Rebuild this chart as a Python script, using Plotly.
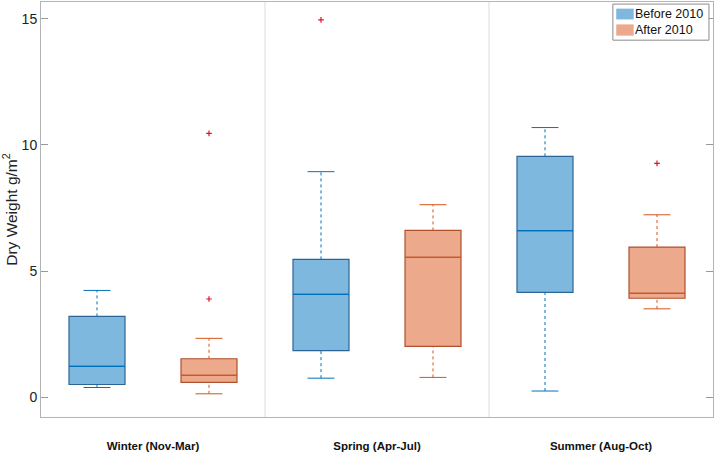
import plotly.graph_objects as go

seasons = ["Winter (Nov-Mar)", "Spring (Apr-Jul)", "Summer (Aug-Oct)"]
series_names = ["Before 2010", "After 2010"]

# Box statistics
before_low = [0.38, 0.75, 0.24]
before_q1 = [0.50, 1.84, 4.15]
before_med = [1.22, 4.07, 6.60]
before_q3 = [3.20, 5.46, 9.55]
before_high = [4.23, 8.94, 10.69]
before_out_season = [1]
before_out_val = [14.96]

after_low = [0.13, 0.78, 3.50]
after_q1 = [0.58, 2.01, 3.92]
after_med = [0.86, 5.54, 4.11]
after_q3 = [1.52, 6.61, 5.95]
after_high = [2.33, 7.63, 7.23]
after_out_season = [0, 0, 2]
after_out_val = [3.89, 10.46, 9.27]

y_ticks = [0, 5, 10, 15]

offsets = [0.25, 0.75]
box_w = 0.25
cap_half = 0.06
line_colors = ["#0072BD", "#D95319"]
fill_colors = ["rgba(0,114,189,0.5)", "rgba(217,83,25,0.5)"]
edge_colors = ["#2C6496", "#B0502C"]

fig = go.Figure()

stats = [
    (before_low, before_q1, before_med, before_q3, before_high, before_out_season, before_out_val),
    (after_low, after_q1, after_med, after_q3, after_high, after_out_season, after_out_val),
]

for i, (lo, q1, med, q3, hi, os_, ov) in enumerate(stats):
    xs = [k + offsets[i] for k in range(len(seasons))]
    wx, wy = [], []
    cx, cy = [], []
    for k, x in enumerate(xs):
        wx += [x, x, None, x, x, None]
        wy += [q3[k], hi[k], None, lo[k], q1[k], None]
        cx += [x - cap_half, x + cap_half, None, x - cap_half, x + cap_half, None]
        cy += [hi[k], hi[k], None, lo[k], lo[k], None]
    fig.add_trace(go.Scatter(x=wx, y=wy, mode="lines", showlegend=False, hoverinfo="skip",
                             line=dict(color=line_colors[i], width=1, dash="3px,3px")))
    fig.add_trace(go.Scatter(x=cx, y=cy, mode="lines", showlegend=False, hoverinfo="skip",
                             line=dict(color=line_colors[i], width=1)))
    fig.add_trace(go.Box(
        x=xs, q1=q1, median=med, q3=q3, lowerfence=q1, upperfence=q3,
        name=series_names[i], width=box_w, whiskerwidth=0,
        fillcolor=fill_colors[i], line=dict(color=edge_colors[i], width=1.2),
        boxpoints=False, showlegend=False,
    ))
    mx, my = [], []
    for k, x in enumerate(xs):
        mx += [x - box_w / 2, x + box_w / 2, None]
        my += [med[k], med[k], None]
    fig.add_trace(go.Scatter(x=mx, y=my, mode="lines", showlegend=False, hoverinfo="skip",
                             line=dict(color=line_colors[i], width=1.2)))
    fig.add_trace(go.Scatter(x=[s + offsets[i] for s in os_], y=ov, mode="markers", showlegend=False,
                             marker=dict(symbol="cross-thin", size=4, line=dict(color="#E3131E", width=1.2))))

for k in range(1, len(seasons)):
    fig.add_shape(type="line", xref="x", yref="paper", x0=k, x1=k, y0=0, y1=1,
                  line=dict(color="#DCDCDC", width=1), layer="below")

# Legend box drawn in the plot's paper space (top-right)
fig.add_shape(type="rect", xref="paper", yref="paper", x0=0.851, x1=0.994, y0=0.908, y1=0.995,
              line=dict(color="#8C8C8C", width=1), fillcolor="white", layer="above")
swatch_y = [(0.958, 0.984), (0.919, 0.946)]
for i, name in enumerate(series_names):
    fig.add_shape(type="rect", xref="paper", yref="paper", x0=0.856, x1=0.882,
                  y0=swatch_y[i][0], y1=swatch_y[i][1],
                  line=dict(color=fill_colors[i], width=0), fillcolor=fill_colors[i], layer="above")
    fig.add_annotation(xref="paper", yref="paper", x=0.881, y=(swatch_y[i][0] + swatch_y[i][1]) / 2,
                       text=name, showarrow=False, xanchor="left", yanchor="middle",
                       font=dict(size=12.5, color="#111111"))

fig.update_layout(
    width=714, height=460,
    margin=dict(l=41, r=1, t=2, b=43),
    paper_bgcolor="white", plot_bgcolor="white",
    boxmode="overlay",
    font=dict(family="Liberation Sans, Arial, sans-serif", color="#222222"),
    showlegend=False,
)
fig.update_xaxes(
    range=[0, 3], tickvals=[0.5, 1.5, 2.5], ticktext=["<b>%s</b>" % s for s in seasons],
    showgrid=False, zeroline=False, ticks="", showline=True, mirror=True,
    linecolor="#B4B4B4", linewidth=1,
    tickfont=dict(size=11.5, color="#111111"),
    ticklabelstandoff=18,
)
fig.update_yaxes(
    range=[-0.79, 15.67], tickvals=y_ticks, ticks="inside", ticklen=7, tickcolor="#999999",
    showgrid=False, zeroline=False, showline=True, mirror="ticks",
    linecolor="#B4B4B4", linewidth=1, tickfont=dict(size=14, color="#222222"),
    title=dict(text="Dry Weight g/m<sup>2</sup>", font=dict(size=15.5, color="#222222"), standoff=5),
)

fig.write_html("out.html")
